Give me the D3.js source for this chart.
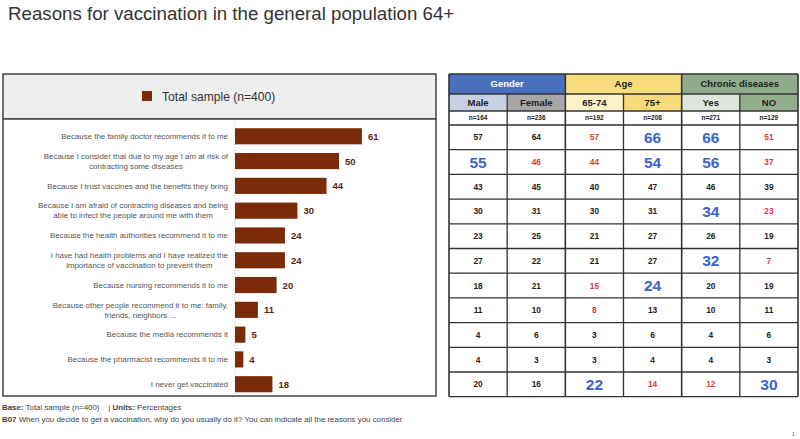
<!DOCTYPE html>
<html>
<head>
<meta charset="utf-8">
<script src="https://cdn.jsdelivr.net/npm/d3@7"></script>
<style>
  html, body { margin: 0; padding: 0; background: #fff; }
  svg { display: block; font-family: "Liberation Sans", Arial, sans-serif; }
</style>
</head>
<body>
<svg id="chart" width="800" height="439"></svg>
<script>
// ---------- data ----------
const categories = [
  "Because the family doctor recommends it to me",
  "Because I consider that due to my age I am at risk of|contracting some diseases",
  "Because I trust vaccines and the benefits they bring",
  "Because I am afraid of contracting diseases and being|able to infect the people around me with them",
  "Because the health authorities recommend it to me",
  "I have had health problems and I have realized the|importance of vaccination to prevent them",
  "Because nursing recommends it to me",
  "Because other people recommend it to me: family,|friends, neighbors ...",
  "Because the media recommends it",
  "Because the pharmacist recommends it to me",
  "I never get vaccinated"
];
const totalValues = [61, 50, 44, 30, 24, 24, 20, 11, 5, 4, 18];

const groups = ["Gender", "Age", "Chronic diseases"];
const subgroups = ["Male", "Female", "65-74", "75+", "Yes", "NO"];
const sampleSizes = ["n=164", "n=236", "n=192", "n=208", "n=271", "n=129"];

const tableValues = [
  [57, 64, 57, 66, 66, 51],
  [55, 46, 44, 54, 56, 37],
  [43, 45, 40, 47, 46, 39],
  [30, 31, 30, 31, 34, 23],
  [23, 25, 21, 27, 26, 19],
  [27, 22, 21, 27, 32, 7],
  [18, 21, 15, 24, 20, 19],
  [11, 10, 8, 13, 10, 11],
  [4, 6, 3, 6, 4, 6],
  [4, 3, 3, 4, 4, 3],
  [20, 16, 22, 14, 12, 30]
];
// 1 = significantly higher (blue), -1 = significantly lower (red), 0 = none
const significance = [
  [0, 0, -1, 1, 1, -1],
  [1, -1, -1, 1, 1, -1],
  [0, 0, 0, 0, 0, 0],
  [0, 0, 0, 0, 1, -1],
  [0, 0, 0, 0, 0, 0],
  [0, 0, 0, 0, 1, -1],
  [0, 0, -1, 1, 0, 0],
  [0, 0, -1, 0, 0, 0],
  [0, 0, 0, 0, 0, 0],
  [0, 0, 0, 0, 0, 0],
  [0, 0, 1, -1, -1, 1]
];

const groupColors = ["#4a71c0", "#f8dc7c", "#8fab8b"];
const groupTextColors = ["#ffffff", "#222222", "#222222"];
const subColors = ["#c8d1e4", "#a6a6a6", "#fdf1c9", "#f8da7a", "#dde4dc", "#92ae8d"];

// ---------- drawing ----------
const svg = d3.select("#chart");

svg.append("text")
  .attr("x", 8).attr("y", 20)
  .attr("font-size", 18.7)
  .attr("fill", "#333")
  .text("Reasons for vaccination in the general population 64+");

// Left panel: legend box
const panelL = 3, panelR = 436;
svg.append("rect")
  .attr("x", panelL).attr("y", 74).attr("width", panelR - panelL).attr("height", 45)
  .attr("fill", "#eeeeee").attr("stroke", "#444").attr("stroke-width", 1.5);
svg.append("rect")
  .attr("x", 142).attr("y", 91).attr("width", 10).attr("height", 10)
  .attr("fill", "#7a2c08");
svg.append("text")
  .attr("x", 162).attr("y", 100.5)
  .attr("font-size", 12.1).attr("fill", "#333")
  .text("Total sample (n=400)");

// Chart box
svg.append("rect")
  .attr("x", panelL).attr("y", 119).attr("width", panelR - panelL).attr("height", 277)
  .attr("fill", "#fff").attr("stroke", "#444").attr("stroke-width", 1.5);

const x = d3.scaleLinear().domain([0, 100]).range([235, 443]);
const y = d3.scaleBand().domain(categories).range([124, 396.5]).paddingInner(0.35).paddingOuter(0.17);

svg.append("line")
  .attr("x1", x(0)).attr("x2", x(0)).attr("y1", 120).attr("y2", 395)
  .attr("stroke", "#bbb").attr("stroke-dasharray", "1,2");

svg.append("g").selectAll("rect").data(categories).join("rect")
  .attr("x", x(0))
  .attr("y", d => y(d))
  .attr("width", (d, i) => x(totalValues[i]) - x(0))
  .attr("height", y.bandwidth())
  .attr("fill", "#7a2c08");

svg.append("g").selectAll("text").data(categories).join("text")
  .attr("x", (d, i) => x(totalValues[i]) + 6)
  .attr("y", d => y(d) + y.bandwidth() / 2 + 3.5)
  .attr("font-size", 9.5).attr("font-weight", "bold").attr("fill", "#5c1e10")
  .text((d, i) => totalValues[i]);

// category labels: block right-aligned at 228, lines centred within the block
const labelG = svg.append("g");
const labelRight = 228;
categories.forEach(c => {
  const lines = c.split("|");
  const cy = y(c) + y.bandwidth() / 2;
  const spans = lines.map((l, j) => labelG.append("text")
    .attr("font-size", 7.9).attr("fill", "#555")
    .attr("text-anchor", "middle")
    .attr("y", cy + 2.8 + (j - (lines.length - 1) / 2) * 10)
    .text(l));
  const maxW = d3.max(spans, s => s.node().getComputedTextLength());
  spans.forEach(s => s.attr("x", labelRight - maxW / 2));
});

// ---------- table ----------
const colX = d3.scaleBand().domain(d3.range(subgroups.length)).range([449, 798]);
const cw = colX.bandwidth();
const rowY = d3.scaleBand().domain(d3.range(tableValues.length)).range([125, 396.7]);
const rh = rowY.bandwidth();

const tbl = svg.append("g");
const h1 = [74, 94], h2 = [94, 111], h3 = [111, 125];

groups.forEach((g, gi) => {
  const x0 = colX(gi * 2), x1 = colX(gi * 2 + 1) + cw;
  tbl.append("rect").attr("x", x0).attr("y", h1[0]).attr("width", x1 - x0).attr("height", h1[1] - h1[0])
    .attr("fill", groupColors[gi]);
  tbl.append("text").attr("x", (x0 + x1) / 2).attr("y", (h1[0] + h1[1]) / 2 + 3.3)
    .attr("text-anchor", "middle").attr("font-size", 9.5).attr("font-weight", "bold")
    .attr("fill", groupTextColors[gi]).text(g);
});
subgroups.forEach((s, i) => {
  tbl.append("rect").attr("x", colX(i)).attr("y", h2[0]).attr("width", cw).attr("height", h2[1] - h2[0])
    .attr("fill", subColors[i]);
  tbl.append("text").attr("x", colX(i) + cw / 2).attr("y", (h2[0] + h2[1]) / 2 + 3.3)
    .attr("text-anchor", "middle").attr("font-size", 9.5).attr("font-weight", "bold")
    .attr("fill", "#222").text(s);
  tbl.append("text").attr("x", colX(i) + cw / 2).attr("y", (h3[0] + h3[1]) / 2 + 2.3)
    .attr("text-anchor", "middle").attr("font-size", 6.5).attr("font-weight", "bold")
    .attr("fill", "#222").text(sampleSizes[i]);
});

tableValues.forEach((row, r) => {
  row.forEach((v, c) => {
    const s = significance[r][c];
    const cx = colX(c) + cw / 2, cy = rowY(r) + rh / 2;
    tbl.append("text")
      .attr("x", cx)
      .attr("y", cy + (s === 1 ? 5.5 : 3))
      .attr("text-anchor", "middle")
      .attr("font-size", s === 1 ? 15.5 : 8.3)
      .attr("font-weight", "bold")
      .attr("fill", s === 1 ? "#3d63cc" : s === -1 ? "#e0383c" : "#222")
      .text(v);
  });
});

// grid lines
const lineColor = "#333";
const tableL = colX(0), tableR = colX(5) + cw;
[h1[0], h1[1], h2[1], h3[1]].concat(d3.range(tableValues.length).map(r => rowY(r) + rh)).forEach(yy => {
  tbl.append("line").attr("x1", tableL).attr("x2", tableR).attr("y1", yy).attr("y2", yy)
    .attr("stroke", lineColor).attr("stroke-width", 1.3);
});
d3.range(subgroups.length + 1).forEach(i => {
  const xx = i < subgroups.length ? colX(i) : tableR;
  const top = (i % 2 === 0) ? h1[0] : h1[1];
  tbl.append("line").attr("x1", xx).attr("x2", xx).attr("y1", top).attr("y2", rowY(tableValues.length - 1) + rh)
    .attr("stroke", lineColor).attr("stroke-width", (i % 2 === 0) ? 1.6 : 1.3);
});

// ---------- footer ----------
const f1 = svg.append("text").attr("x", 2).attr("y", 410).attr("font-size", 7.9).attr("fill", "#444");
f1.append("tspan").attr("font-weight", "bold").text("Base:");
f1.append("tspan").text(" Total sample (n=400)\u00a0\u00a0\u00a0 | ");
f1.append("tspan").attr("font-weight", "bold").text("Units:");
f1.append("tspan").text(" Percentages");
const f2 = svg.append("text").attr("x", 2).attr("y", 421.5).attr("font-size", 7.9).attr("fill", "#444");
f2.append("tspan").attr("font-weight", "bold").text("B07");
f2.append("tspan").text(" When you decide to get a vaccination, why do you usually do it? You can indicate all the reasons you consider");

svg.append("text").attr("x", 795).attr("y", 436).attr("text-anchor", "end")
  .attr("font-size", 6).attr("fill", "#666").text("1");
</script>
</body>
</html>
